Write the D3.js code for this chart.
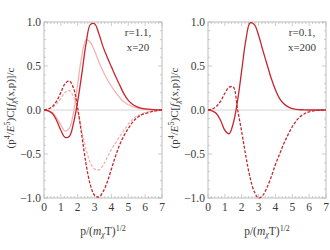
<!DOCTYPE html>
<html>
<head>
<meta charset="utf-8">
<script src="https://cdn.jsdelivr.net/npm/d3@7"></script>
<style>
body { margin: 0; background: #fff; }
text { font-family: "Liberation Serif", "DejaVu Serif", serif; fill: #3a3a3a; }
</style>
</head>
<body>
<script>
// sample positions in p/(m T)^1/2
var xs = [0, 0.25, 0.5, 0.75, 1, 1.25, 1.5, 1.75, 2, 2.25, 2.5, 2.75, 3, 3.25, 3.5,
  3.75, 4, 4.25, 4.5, 4.75, 5, 5.25, 5.5, 5.75, 6, 6.5, 7];

// left panel: r=1.1, x=20
var leftSolid = [0, -0.01, -0.04, -0.12, -0.23, -0.31, -0.3, -0.15, 0.1, 0.42, 0.76, 0.97, 0.98,
  0.87, 0.72, 0.6, 0.49, 0.38, 0.28, 0.18, 0.11, 0.065, 0.038, 0.022, 0.012, 0.004, 0];
var leftSolidPale = [0, -0.01, -0.03, -0.09, -0.17, -0.24, -0.21, -0.03, 0.3, 0.62, 0.8, 0.77, 0.67,
  0.55, 0.44, 0.35, 0.27, 0.2, 0.14, 0.09, 0.06, 0.038, 0.024, 0.014, 0.008, 0.002, 0];
var leftDash = [0, 0.01, 0.04, 0.1, 0.2, 0.3, 0.33, 0.25, 0.02, -0.3, -0.62, -0.85, -0.97,
  -0.99, -0.93, -0.82, -0.67, -0.52, -0.39, -0.29, -0.21, -0.14, -0.09, -0.06, -0.04, -0.015, 0];
var leftDashPale = [0, 0.01, 0.03, 0.07, 0.13, 0.2, 0.22, 0.15, -0.02, -0.25, -0.45, -0.6, -0.67,
  -0.68, -0.63, -0.54, -0.45, -0.37, -0.3, -0.23, -0.16, -0.11, -0.07, -0.05, -0.03, -0.01, 0];

// right panel: r=0.1, x=200
var rightSolid = [0, -0.01, -0.04, -0.12, -0.23, -0.27, -0.15, 0.1, 0.45, 0.8, 0.99, 0.97, 0.85,
  0.68, 0.52, 0.36, 0.23, 0.13, 0.07, 0.035, 0.015, 0.007, 0.003, 0.001, 0, 0, 0];
var rightDash = [0, 0.01, 0.04, 0.1, 0.19, 0.26, 0.26, 0.01, -0.25, -0.53, -0.77, -0.93, -1.0,
  -0.97, -0.88, -0.76, -0.62, -0.5, -0.38, -0.28, -0.19, -0.12, -0.07, -0.04, -0.02, -0.005, 0];

var xTicks = [0, 1, 2, 3, 4, 5, 6, 7];
var yTicks = [-1, -0.5, 0, 0.5, 1];

var red = "#c6262e", pink = "#f2b3b3";

var svg = d3.select("body").append("svg")
  .attr("width", 330)
  .attr("height", 250);

var panels = [
  { x0: 44, label: ["r=1.1,", "x=20"],
    series: [
      { y: leftSolidPale, color: pink, dash: null },
      { y: leftDashPale, color: pink, dash: "3,1.6" },
      { y: leftSolid, color: red, dash: null },
      { y: leftDash, color: red, dash: "3,1.6" }
    ] },
  { x0: 208, label: ["r=0.1,", "x=200"],
    series: [
      { y: rightSolid, color: red, dash: null },
      { y: rightDash, color: red, dash: "3,1.6" }
    ] }
];

var plotW = 118, plotTop = 22, plotH = 176;

panels.forEach(function(p) {
  var w = plotW, h = plotH;
  var g = svg.append("g").attr("transform", "translate(" + p.x0 + "," + plotTop + ")");
  var x = d3.scaleLinear().domain([0, 7]).range([0, w]);
  var y = d3.scaleLinear().domain([-1, 1]).range([h, 0]);

  g.append("clipPath").attr("id", "c" + p.x0)
    .append("rect").attr("x", 0).attr("y", -2).attr("width", w).attr("height", h + 4);

  // zero line
  g.append("line")
    .attr("x1", 0).attr("x2", w)
    .attr("y1", y(0)).attr("y2", y(0))
    .attr("stroke", "#d4d4d4").attr("stroke-width", 1);

  // frame minor/major ticks, inward on all sides
  var tg = g.append("g").attr("stroke", "#aaa").attr("stroke-width", 0.6);
  d3.range(0, 7.01, 0.2).forEach(function(v) {
    var major = Math.abs(v - Math.round(v)) < 1e-6;
    var L = major ? 4 : 2;
    tg.append("line").attr("x1", x(v)).attr("x2", x(v)).attr("y1", h).attr("y2", h - L);
    tg.append("line").attr("x1", x(v)).attr("x2", x(v)).attr("y1", 0).attr("y2", L);
  });
  d3.range(-1, 1.001, 0.1).forEach(function(v) {
    var major = Math.abs(v * 2 - Math.round(v * 2)) < 1e-6;
    var L = major ? 4 : 2;
    tg.append("line").attr("y1", y(v)).attr("y2", y(v)).attr("x1", 0).attr("x2", L);
    tg.append("line").attr("y1", y(v)).attr("y2", y(v)).attr("x1", w).attr("x2", w - L);
  });

  g.append("rect")
    .attr("width", w).attr("height", h)
    .attr("fill", "none").attr("stroke", "#bdbdbd").attr("stroke-width", 1);

  // curves
  var line = d3.line()
    .x(function(d, i) { return x(xs[i]); })
    .y(function(d) { return y(d); })
    .curve(d3.curveCatmullRom.alpha(0.5));

  p.series.forEach(function(s) {
    g.append("path")
      .attr("clip-path", "url(#c" + p.x0 + ")")
      .attr("d", line(s.y))
      .attr("fill", "none")
      .attr("stroke", s.color)
      .attr("stroke-width", 1.3)
      .attr("stroke-dasharray", s.dash);
  });

  // tick labels
  g.selectAll(".xt").data(xTicks).enter().append("text")
    .attr("x", function(d) { return x(d); })
    .attr("y", h + 13)
    .attr("text-anchor", "middle")
    .attr("font-size", 11.5)
    .text(function(d) { return d; });

  g.selectAll(".yt").data(yTicks).enter().append("text")
    .attr("x", -3)
    .attr("y", function(d) { return y(d) + 4; })
    .attr("text-anchor", "end")
    .attr("font-size", 11.5)
    .text(function(d) { return d3.format(".1f")(d).replace("-", "\u2212"); });

  // annotation
  g.append("text").attr("x", w - 24).attr("y", 14)
    .attr("text-anchor", "middle").attr("font-size", 11).text(p.label[0]);
  g.append("text").attr("x", w - 24).attr("y", 29)
    .attr("text-anchor", "middle").attr("font-size", 11).text(p.label[1]);

  // x label
  var xl = g.append("text")
    .attr("x", w / 2).attr("y", h + 37)
    .attr("text-anchor", "middle").attr("font-size", 11.5);
  xl.append("tspan").text("p/(");
  xl.append("tspan").attr("font-style", "italic").text("m");
  xl.append("tspan").attr("font-size", 8).attr("font-style", "italic").attr("dy", 2).text("\u03c7");
  xl.append("tspan").attr("dy", -2).text("T)");
  xl.append("tspan").attr("font-size", 8).attr("dy", -4.5).text("1/2");

  // y label
  var yl = g.append("text")
    .attr("transform", "translate(-30," + (h / 2 - 2) + ") rotate(-90)")
    .attr("text-anchor", "middle").attr("font-size", 11);
  yl.append("tspan").text("(p");
  yl.append("tspan").attr("font-size", 8).attr("dy", -4).text("4");
  yl.append("tspan").attr("dy", 4).text("/");
  yl.append("tspan").attr("font-style", "italic").text("E");
  yl.append("tspan").attr("font-size", 8).attr("dy", -4).text("5");
  yl.append("tspan").attr("dy", 4).text(")C[");
  yl.append("tspan").attr("font-style", "italic").text("f");
  yl.append("tspan").attr("font-size", 8).attr("font-style", "italic").attr("dy", 2).text("\u03c7");
  yl.append("tspan").attr("dy", -2).text("(x,p)]/c");
});
</script>
</body>
</html>
